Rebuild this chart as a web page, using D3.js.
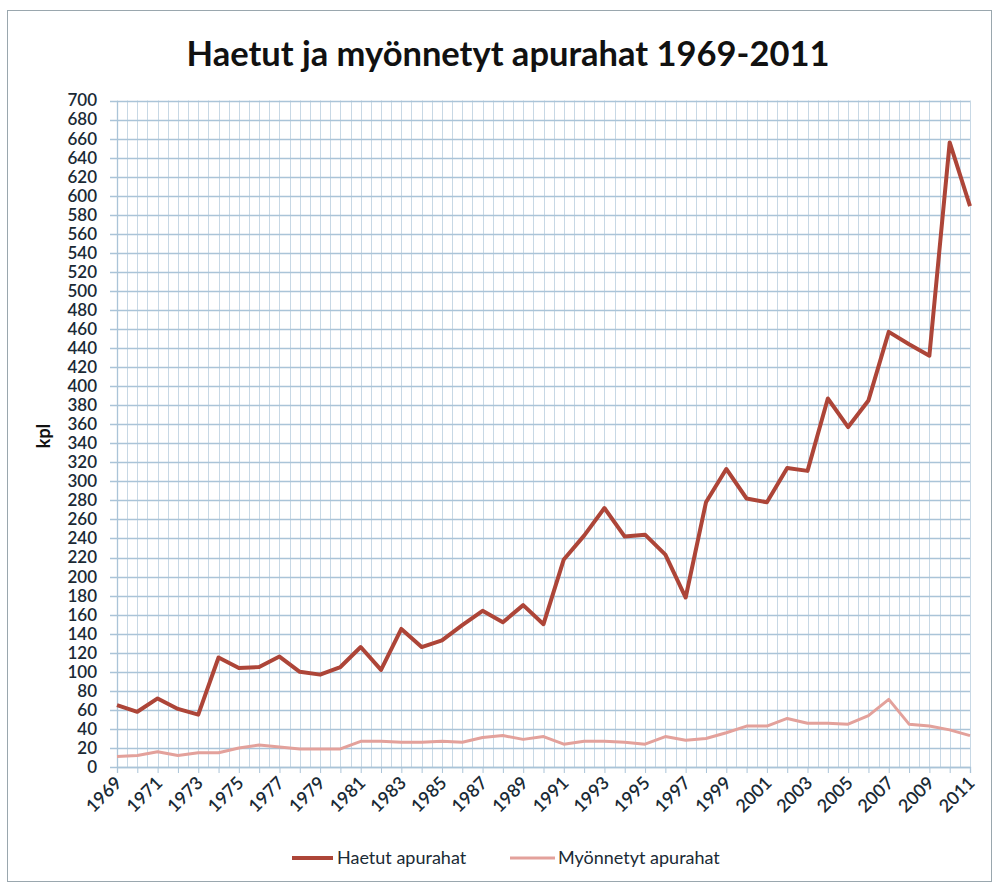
<!DOCTYPE html>
<html>
<head>
<meta charset="utf-8">
<script src="https://cdn.jsdelivr.net/npm/d3@7"></script>
<style>
  html, body { margin: 0; padding: 0; background: #fff; }
  svg { display: block; }
</style>
</head>
<body>
<svg id="chart" width="1000" height="885"></svg>
<script>
const years = d3.range(1969, 2012);
const haetut = [65, 58, 72, 61, 55, 115, 104, 105, 116, 100, 97, 105, 126, 102, 145, 126, 133, 149, 164, 152, 170, 150, 218, 243, 272, 242, 244, 223, 178,
                278, 313, 282, 278, 314, 311, 387, 357, 385, 457, 444, 432, 656, 589];
const myonnetyt = [11, 12, 16, 12, 15, 15, 20, 23, 21, 19, 19, 19, 27, 27, 26, 26, 27, 26, 31, 33, 29, 32, 24, 27, 27, 26, 24, 32, 28,
                   30, 36, 43, 43, 51, 46, 46, 45, 54, 71, 45, 43, 39, 33];
const yTicks = d3.range(0, 701, 20);
const xTickLabels = years.filter((y, i) => i % 2 === 0);
const seriesNames = ["Haetut apurahat", "Myönnetyt apurahat"];
const seriesColors = ["#ad4538", "#e3a19b"];
const title = "Haetut ja myönnetyt apurahat 1969-2011";
const yTitle = "kpl";

const svg = d3.select("#chart");
const font = "Lato, 'Open Sans', sans-serif";
const gridColor = "#aac4d8";
const textColor = "#1a2a35";

// outer frame
svg.append("rect").attr("x", 7.5).attr("y", 10.5).attr("width", 984).attr("height", 871)
  .attr("fill", "#fff").attr("stroke", "#9aa7ae").attr("stroke-width", 1);

const x = d3.scaleLinear().domain([1969, 2011]).range([117, 970]);
const y = d3.scaleLinear().domain([0, 700]).range([767, 100.5]);

const g = svg.append("g");

// vertical gridlines (each year and half-year)
const vLines = d3.range(1969, 2011.01, 0.5);
g.append("g").selectAll("line").data(vLines).join("line")
  .attr("x1", d => Math.round(x(d)) + 0.5).attr("x2", d => Math.round(x(d)) + 0.5)
  .attr("y1", y(700)).attr("y2", y(0))
  .attr("stroke", gridColor).attr("stroke-width", 1).attr("opacity", 0.65);

// horizontal gridlines
g.append("g").selectAll("line").data(yTicks).join("line")
  .attr("x1", 110).attr("x2", x(2011))
  .attr("y1", d => Math.round(y(d)) + 0.5).attr("y2", d => Math.round(y(d)) + 0.5)
  .attr("stroke", gridColor).attr("stroke-width", 1.3);

// x axis
const xAxis = d3.axisBottom(x).tickValues(years).tickSize(6).tickFormat("");
const xg = g.append("g").attr("transform", `translate(0,${y(0)})`).call(xAxis);
xg.select(".domain").attr("stroke", gridColor).attr("stroke-width", 1.3);
xg.selectAll(".tick line").attr("stroke", gridColor);

// x labels rotated
g.append("g").selectAll("text").data(xTickLabels).join("text")
  .attr("transform", d => `translate(${x(d) + 6},${y(0) + 17}) rotate(-45)`)
  .attr("text-anchor", "end")
  .attr("font-family", font).attr("font-size", 18).attr("font-weight", 600).attr("fill", textColor)
  .text(d => d);

// y axis
const yAxis = d3.axisLeft(y).tickValues(yTicks).tickSize(0).tickPadding(20);
const yg = g.append("g").attr("transform", `translate(${x(1969)},0)`).call(yAxis);
yg.select(".domain").attr("stroke", gridColor).attr("stroke-width", 1.3);
yg.selectAll("text").attr("font-family", font).attr("font-size", 17).attr("font-weight", 600).attr("fill", textColor);

// lines
const line = d3.line().x((d, i) => x(years[i])).y(d => y(d));
g.append("path").datum(myonnetyt).attr("d", line)
  .attr("fill", "none").attr("stroke", seriesColors[1]).attr("stroke-width", 3).attr("stroke-linejoin", "round");
g.append("path").datum(haetut).attr("d", line)
  .attr("fill", "none").attr("stroke", seriesColors[0]).attr("stroke-width", 4).attr("stroke-linejoin", "round");

// title
const t = svg.append("text").attr("x", 508).attr("y", 66).attr("text-anchor", "middle")
  .attr("font-family", font).attr("font-weight", "bold").attr("font-size", 30).attr("fill", "#111")
  .text(title);
const tw = t.node().getComputedTextLength();
t.attr("font-size", 30 * 643 / tw);

// y title
svg.append("text").attr("transform", "translate(50,436) rotate(-90)").attr("text-anchor", "middle")
  .attr("font-family", font).attr("font-weight", "bold").attr("font-size", 18).attr("fill", "#111")
  .text(yTitle);

// legend
const legendItems = [{x1: 292, x2: 333, tx: 337}, {x1: 510, x2: 555, tx: 558}];
legendItems.forEach((it, i) => {
  svg.append("line").attr("x1", it.x1).attr("x2", it.x2).attr("y1", 858).attr("y2", 858)
    .attr("stroke", seriesColors[i]).attr("stroke-width", i === 0 ? 4 : 3);
  svg.append("text").attr("x", it.tx).attr("y", 864)
    .attr("font-family", font).attr("font-size", 18).attr("fill", textColor)
    .text(seriesNames[i]);
});
</script>
</body>
</html>
